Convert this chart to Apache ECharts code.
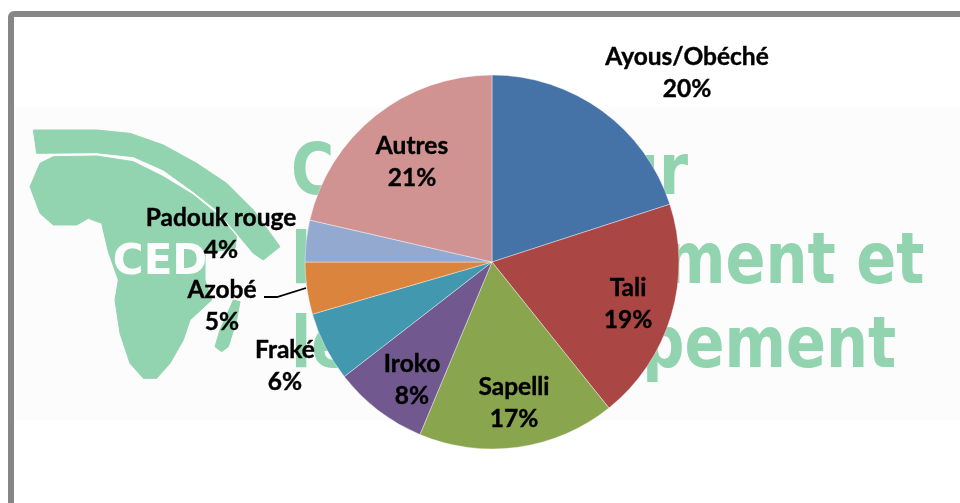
<!DOCTYPE html>
<html><head><meta charset="utf-8">
<style>html,body{margin:0;padding:0;background:#fff}#c{width:960px;height:503px}</style>
<script src="https://cdn.jsdelivr.net/npm/echarts@6/dist/echarts.min.js"></script>
</head><body><div id="c"></div>
<script>
const categories = ['Ayous/Obéché','Tali','Sapelli','Iroko','Fraké','Azobé','Padouk rouge','Autres'];
const values = [20,19.25,17.05,8.2,6,4.5,3.6,21.4];
const colors = ['#4572A7','#AA4643','#89A54E','#71588F','#4198AF','#DB843D','#93A9CF','#D19392'];
const labelCenters = [[687,73],[628,304],[514,403],[412,380],[285,366],[222,306],[221,234],[412,162]];
const watermarkLines = ['Centre pour',"l'Environnement et",'le Développement'];
const wmColor = '#92d4af';
const crop = pts => pts.map(p => [p[0]/3+20, p[1]/3+120]);
const band = crop([[40,30],[230,30],[330,40],[430,75],[530,130],[620,190],[700,270],[780,380],[730,420],[700,400],[650,340],[590,270],[520,215],[430,150],[340,110],[230,98],[50,100]]);
const body = crop([[60,130],[100,110],[230,108],[340,125],[430,170],[520,225],[600,290],[650,350],[645,385],[555,400],[555,480],[575,540],[510,600],[490,660],[450,730],[410,775],[370,775],[330,730],[300,640],[285,540],[295,480],[265,395],[245,310],[205,295],[170,315],[100,315],[60,280],[30,200]]);
const isle = crop([[640,540],[660,545],[650,600],[625,680],[605,695],[585,680],[600,630]]);

const chart = echarts.init(document.getElementById('c'), null, {renderer:'canvas'});
const poly = p => ({type:'polygon', shape:{points:p}, style:{fill:wmColor, stroke:wmColor, lineWidth:1}, silent:true});
const wmText = (t,y) => ({type:'text', x:291, y:y, scaleY:1.2, silent:true,
  style:{text:t, fill:wmColor, fontFamily:'DejaVu Sans', fontWeight:'bold', fontSize:59, verticalAlign:'middle'}});
chart.setOption({
  animation:false,
  backgroundColor:'#ffffff',
  graphic:{elements:[
    {type:'group', z:-10, silent:true, children:[
      {type:'rect', shape:{x:15,y:107,width:945,height:313}, style:{fill:'#fcfcfc'}},
      {type:'rect', shape:{x:11,y:14,width:1000,height:600,r:3}, style:{fill:null, stroke:'#868686', lineWidth:6}},
      poly(band), poly(body), poly(isle),
      {type:'text', x:160, y:263, silent:true, style:{text:'CED', fill:'#fdfdfd', fontFamily:'DejaVu Sans', fontWeight:'bold', fontSize:42, align:'center', verticalAlign:'middle'}},
      wmText(watermarkLines[0],176), wmText(watermarkLines[1],265), wmText(watermarkLines[2],349)
    ]},
    {type:'polyline', z:20, silent:true, shape:{points:[[306,288],[277,297],[264,297]]}, style:{stroke:'#000', lineWidth:1.8, fill:null}}
  ]},
  series:[{
    type:'pie', z:5,
    center:[492,262], radius:[0,187], startAngle:90, clockwise:true, percentPrecision:0,
    data:categories.map((n,i)=>({name:n, value:values[i], itemStyle:{color:colors[i]}})),
    itemStyle:{borderColor:'#ffffff', borderWidth:0.4},
    avoidLabelOverlap:false,
    label:{show:true, position:'inside', formatter:'{b}\n{d}%', color:'#000', fontFamily:'Lato', fontWeight:'bold', fontSize:24.5, lineHeight:32, align:'center', verticalAlign:'middle', textBorderColor:'#000', textBorderWidth:0.4},
    labelLine:{show:false},
    labelLayout:p=>{
      const c = labelCenters[p.dataIndex];
      return {x:c[0], y:c[1], align:'center', verticalAlign:'middle'};
    },
    emphasis:{disabled:true}
  }]
});
</script></body></html>
